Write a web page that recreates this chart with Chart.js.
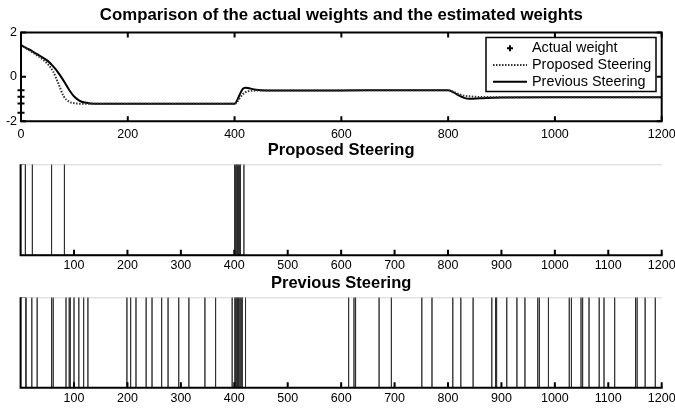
<!DOCTYPE html>
<html><head><meta charset="utf-8">
<script src="https://cdn.jsdelivr.net/npm/chart.js@4.4.1/dist/chart.umd.min.js"></script>
<style>
html,body{margin:0;padding:0;background:#fff;}
body{width:675px;height:410px;position:relative;overflow:hidden;}
canvas{position:absolute;left:0;}
</style></head><body>
<canvas id="c1" width="675" height="142" style="top:0px"></canvas>
<canvas id="c2" width="675" height="140" style="top:135px"></canvas>
<canvas id="c3" width="675" height="145" style="top:265px"></canvas>
<script>
// ---------------- data ----------------
const weightTimes      = [0,10,20,30,40,50,60,70,80,90,100,110,120,130,150,200,300,400,405,410,415,420,425,430,440,460,500,600,700,800,810,820,830,840,850,870,900,1000,1100,1200];
const proposedWeights  = [1.43,1.28,1.12,0.97,0.8,0.58,0.25,-0.3,-0.88,-1.12,-1.19,-1.21,-1.21,-1.21,-1.21,-1.21,-1.21,-1.21,-1.12,-0.95,-0.8,-0.7,-0.65,-0.63,-0.62,-0.61,-0.61,-0.61,-0.6,-0.6,-0.68,-0.78,-0.85,-0.88,-0.9,-0.91,-0.92,-0.92,-0.92,-0.92];
const previousWeights  = [1.43,1.3,1.17,1.02,0.88,0.72,0.48,0.18,-0.18,-0.58,-0.9,-1.08,-1.16,-1.2,-1.21,-1.21,-1.21,-1.21,-1.05,-0.78,-0.55,-0.49,-0.5,-0.53,-0.58,-0.61,-0.61,-0.61,-0.6,-0.6,-0.7,-0.84,-0.95,-0.99,-0.98,-0.95,-0.93,-0.92,-0.92,-0.92];
const actualWeightTimes = [0,0,0,0];
const actualWeights     = [-0.6,-0.9,-1.2,-1.62];
const weightXTicks   = [0,200,400,600,800,1000,1200];
const weightYTicks   = [-2,0,2];
const steeringXTicks = [100,200,300,400,500,600,700,800,900,1000,1100,1200];

// steering activity: runs [start,end] at level 1, and single-step events
const proposedRuns   = [[0,9]];
const proposedEvents = [22,58,82,400,401,402,403,404,405,406,407,408,409,410,411,412,418];
const previousRuns   = [[0,10]];
const previousEvents = [21,31,58,61,85,91,93,100,109,118,126,199,206,216,235,246,264,276,296,315,345,365,396,
  401,402,403,404,405,406,407,408,409,411,413,415,421,
  614,624,627,671,694,751,770,809,824,847,882,889,891,910,929,944,968,971,988,
  1027,1031,1049,1052,1064,1083,1092,1112,1151,1154,1169,1188];

// ---------------- helpers ----------------
const FONT = '"Liberation Sans", Arial, Helvetica, sans-serif';
const zip = (xs, ys) => xs.map((x, i) => ({x, y: ys[i]}));
function activity(runs, events) {
  const items = runs.map(r => [r[0], r[1]]).concat(events.map(t => [t, t])).sort((a, b) => a[0] - b[0]);
  const pts = [];
  for (const [a, b] of items) pts.push({x:a,y:0},{x:a,y:1},{x:b,y:1},{x:b,y:0});
  return pts;
}
const setTicks = arr => s => { s.ticks = arr.map(v => ({value: v})); };

const matlabPlugin = {
  id: 'matlab',
  afterDraw(chart, args, o) {
    const ctx = chart.ctx, a = chart.chartArea, xs = chart.scales.x, ys = chart.scales.y;
    const TL = o.tickLen || 5;
    ctx.save();
    if (o.dottedTop) {
      ctx.strokeStyle = '#aaa'; ctx.lineWidth = 1; ctx.setLineDash([1, 1]);
      ctx.beginPath(); ctx.moveTo(a.left, a.top + 0.5); ctx.lineTo(a.right, a.top + 0.5); ctx.stroke();
      ctx.setLineDash([]);
    }
    ctx.strokeStyle = '#000'; ctx.lineWidth = 2; ctx.lineCap = 'butt';
    ctx.beginPath();
    if (o.box) ctx.rect(a.left, a.top, a.right - a.left, a.bottom - a.top);
    else { ctx.moveTo(a.left, a.top); ctx.lineTo(a.left, a.bottom); ctx.lineTo(a.right + 1, a.bottom); }
    ctx.stroke();
    ctx.beginPath();
    for (const t of xs.ticks) {
      const px = xs.getPixelForValue(t.value);
      ctx.moveTo(px, a.bottom); ctx.lineTo(px, a.bottom - TL);
      if (o.box) { ctx.moveTo(px, a.top); ctx.lineTo(px, a.top + TL); }
    }
    if (o.yTicks) for (const t of ys.ticks) {
      const py = ys.getPixelForValue(t.value);
      ctx.moveTo(a.left, py); ctx.lineTo(a.left + TL, py);
      if (o.box) { ctx.moveTo(a.right, py); ctx.lineTo(a.right - TL, py); }
    }
    ctx.stroke();
    // title
    ctx.fillStyle = '#000';
    ctx.font = 'bold ' + o.titleSize + 'px ' + FONT;
    ctx.textAlign = 'center'; ctx.textBaseline = 'alphabetic';
    ctx.fillText(o.title, (a.left + a.right) / 2, o.titleBaseline);
    // legend
    if (o.legend) {
      const L = o.legend;
      ctx.fillStyle = '#fff'; ctx.fillRect(L.left, L.top, L.right - L.left, L.bottom - L.top);
      ctx.strokeStyle = '#000'; ctx.lineWidth = 1.5;
      ctx.strokeRect(L.left, L.top, L.right - L.left, L.bottom - L.top);
      ctx.font = '14.4px ' + FONT; ctx.textAlign = 'left'; ctx.textBaseline = 'middle';
      chart.data.datasets.forEach((ds, i) => {
        const y = L.firstRow + i * L.rowGap;
        ctx.save();
        if (ds.showLine === false) {
          ctx.strokeStyle = '#000'; ctx.lineWidth = 2; ctx.beginPath();
          const cx = (L.sampleX0 + L.sampleX1) / 2, r = 3;
          ctx.moveTo(cx - r, y); ctx.lineTo(cx + r, y); ctx.moveTo(cx, y - r); ctx.lineTo(cx, y + r); ctx.stroke();
        } else {
          ctx.strokeStyle = ds.borderColor; ctx.lineWidth = ds.borderWidth;
          ctx.setLineDash(ds.borderDash || []);
          ctx.beginPath(); ctx.moveTo(L.sampleX0, y); ctx.lineTo(L.sampleX1, y); ctx.stroke();
        }
        ctx.restore();
        ctx.fillStyle = '#000';
        ctx.fillText(ds.label, L.textX, y);
      });
    }
    ctx.restore();
  }
};
Chart.register(matlabPlugin);

const tickFont = {family: FONT, size: 12.5};
function baseX(ticks, height, pad) {
  return { type: 'linear', min: 0, max: 1200, afterBuildTicks: setTicks(ticks),
    afterFit: s => { s.height = height; s.paddingLeft = 0; s.paddingRight = 0; },
    grid: {display: false, drawTicks: false}, border: {display: false},
    ticks: {font: tickFont, color: '#000', padding: pad, maxRotation: 0, autoSkip: false, callback: v => String(v)} };
}

// ---------------- chart 1: weights ----------------
new Chart(document.getElementById('c1'), {
  type: 'line',
  data: { datasets: [
    { label: 'Actual weight', data: zip(actualWeightTimes, actualWeights), showLine: false,
      pointStyle: 'cross', pointRadius: 3.5, pointBorderWidth: 2, borderColor: '#000', backgroundColor: '#000', clip: false },
    { label: 'Proposed Steering', data: zip(weightTimes, proposedWeights), borderColor: '#333', borderWidth: 2,
      borderDash: [1.5, 1.5], pointRadius: 0, cubicInterpolationMode: 'monotone', fill: false },
    { label: 'Previous Steering', data: zip(weightTimes, previousWeights), borderColor: '#000', borderWidth: 2,
      pointRadius: 0, cubicInterpolationMode: 'monotone', fill: false }
  ]},
  options: {
    responsive: false, animation: false, devicePixelRatio: 1,
    layout: { padding: { top: 32.5, right: 13.3, left: 0, bottom: 0 } },
    plugins: { legend: {display: false}, tooltip: {enabled: false},
      matlab: { box: true, yTicks: true, tickLen: 5, title: 'Comparison of the actual weights and the estimated weights', titleSize: 16.8, titleBaseline: 20,
        legend: { left: 486, top: 37.5, right: 656, bottom: 91.5, firstRow: 48.3, rowGap: 16.7, sampleX0: 493, sampleX1: 527, textX: 532 } } },
    scales: {
      x: baseX(weightXTicks, 20.8, 6),
      y: { min: -2, max: 2, afterBuildTicks: setTicks(weightYTicks), afterFit: s => { s.width = 21; },
        grid: {display: false, drawTicks: false}, border: {display: false},
        ticks: {font: tickFont, color: '#000', padding: 4} }
    }
  }
});

// ---------------- steering charts ----------------
function steering(id, title, runs, events, top, bottomH, titleBaseline, pad) {
  new Chart(document.getElementById(id), {
    type: 'line',
    data: { datasets: [ { label: title, data: activity(runs, events), borderColor: '#2a2a2a', borderWidth: 0.9,
      pointRadius: 0, tension: 0, borderJoinStyle: 'bevel', fill: false } ] },
    options: {
      responsive: false, animation: false, devicePixelRatio: 1,
      layout: { padding: { top: top, right: 13.3, left: 0, bottom: 0 } },
      plugins: { legend: {display: false}, tooltip: {enabled: false},
        matlab: { box: false, yTicks: false, dottedTop: true, tickLen: 5.5, title: title, titleSize: 16.5, titleBaseline: titleBaseline } },
      scales: {
        x: baseX(steeringXTicks, bottomH, pad),
        y: { min: 0, max: 1, afterFit: s => { s.width = 20.6; },
          grid: {display: false, drawTicks: false}, border: {display: false}, ticks: {display: false} }
      }
    }
  });
}
steering('c2', 'Proposed Steering', proposedRuns, proposedEvents, 29.3, 19.8, 20, 3.3);
steering('c3', 'Previous Steering', previousRuns, previousEvents, 32.3, 22.3, 23.3, 3.3);
</script>
</body></html>
